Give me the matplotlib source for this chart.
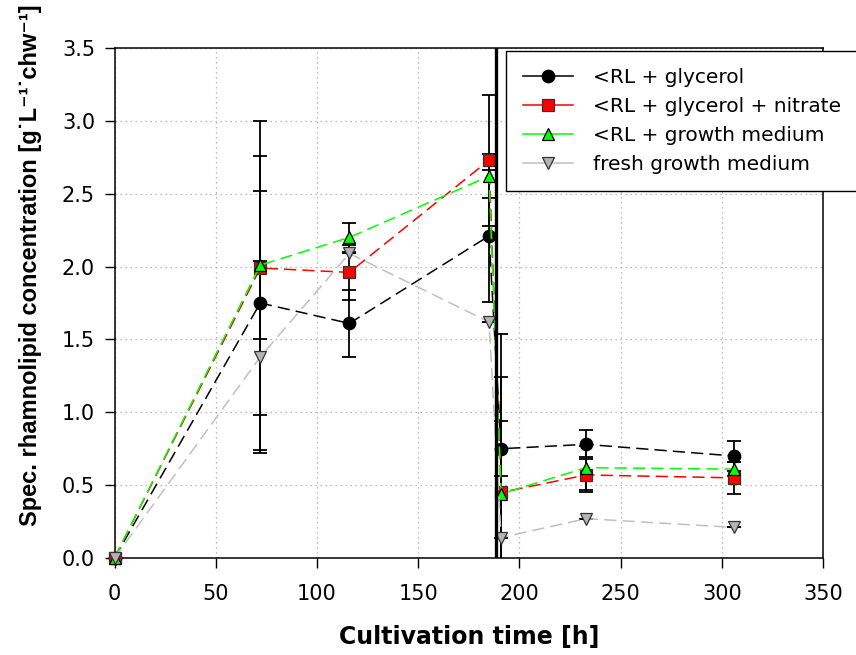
import matplotlib
matplotlib.use("Agg")
import matplotlib.pyplot as plt

plt.rcParams['font.family'] = ['DejaVu Sans']

# Sampling times [h]
time_h = [0, 72, 116, 185, 191, 233, 306]

# Specific rhamnolipid concentration per series, with standard deviations
rl_glycerol = [0.0, 1.75, 1.61, 2.21, 0.75, 0.78, 0.70]
rl_glycerol_err = [0.0, 1.01, 0.23, 0.45, 0.19, 0.10, 0.10]

rl_glycerol_nitrate = [0.0, 1.99, 1.96, 2.73, 0.45, 0.57, 0.55]
rl_glycerol_nitrate_err = [0.0, 1.01, 0.19, 0.45, 0.79, 0.12, 0.11]

rl_growth_medium = [0.0, 2.01, 2.20, 2.62, 0.44, 0.62, 0.61]
rl_growth_medium_err = [0.0, 0.51, 0.10, 0.15, 1.10, 0.15, 0.05]

fresh_growth_medium = [0.0, 1.38, 2.09, 1.62, 0.14, 0.27, 0.21]
fresh_growth_medium_err = [0.0, 0.66, 0.0, 0.0, 0.0, 0.0, 0.0]

series_labels = ["<RL + glycerol", "<RL + glycerol + nitrate",
                 "<RL + growth medium", "fresh growth medium"]

medium_change_h = 188.5

fig = plt.figure(figsize=(8.56, 6.55), dpi=100)
ax = fig.add_axes([114.5 / 856, 1 - 558 / 655, (823 - 114.5) / 856, (558 - 48) / 655])

styles = [
    dict(color="black", marker="o", mfc="black", mec="black"),
    dict(color="red", marker="s", mfc="red", mec="#333333"),
    dict(color="#00ff00", marker="^", mfc="#00ff00", mec="black"),
    dict(color="#c0c0c0", marker="v", mfc="#b4b4b4", mec="#333333"),
]
values = [rl_glycerol, rl_glycerol_nitrate, rl_growth_medium, fresh_growth_medium]
errors = [rl_glycerol_err, rl_glycerol_nitrate_err, rl_growth_medium_err, fresh_growth_medium_err]

# error bars first, in black
for vals, errs in zip(values, errors):
    ax.errorbar(time_h, vals, yerr=errs, fmt="none", ecolor="black",
                elinewidth=1.3, capsize=5, capthick=1.3, zorder=3)

handles = []
for vals, st, lab in zip(values, styles, series_labels):
    h, = ax.plot(time_h, vals, linestyle=(0, (8, 4)), linewidth=1.1,
                 color=st["color"], marker=st["marker"], markersize=9,
                 markerfacecolor=st["mfc"], markeredgecolor=st["mec"],
                 markeredgewidth=0.9, label=lab, zorder=4, clip_on=False)
    handles.append(h)

ax.axvline(medium_change_h, color="black", linewidth=2.4, zorder=5)

ax.set_xlim(0, 350)
ax.set_ylim(0, 3.5)
ax.set_xticks(range(0, 351, 50))
yticks = [0.0, 0.5, 1.0, 1.5, 2.0, 2.5, 3.0, 3.5]
ax.set_yticks(yticks)
ax.set_yticklabels([f"{v:.1f}" for v in yticks])
ax.tick_params(direction="out", length=7, width=1, labelsize=15)
ax.tick_params(axis="x", pad=12)
ax.tick_params(axis="y", pad=7)
ax.grid(True, color="#a8a8a8", linestyle=(0, (1, 3)), linewidth=0.9)
ax.set_axisbelow(True)
for sp in ax.spines.values():
    sp.set_linewidth(1.1)

ax.set_xlabel("Cultivation time [h]", fontsize=17, fontweight="bold", labelpad=15)
ax.set_ylabel("Spec. rhamnolipid concentration [g˙L⁻¹˙chw⁻¹]",
              family=["Liberation Sans", "DejaVu Sans"],
              fontsize=17, fontweight="bold")
ax.yaxis.set_label_coords(-0.102, 0.575)

leg = fig.legend(handles=handles, loc="upper left",
                 bbox_to_anchor=(506 / 856, 1 - 50.7 / 655),
                 bbox_transform=fig.transFigure, fontsize=14.5, frameon=True,
                 fancybox=False, edgecolor="black", framealpha=1,
                 handlelength=2.5, handletextpad=0.95, borderpad=0.85,
                 labelspacing=0.5, borderaxespad=0)
leg.get_frame().set_linewidth(1.0)
for lh in leg.legend_handles:
    lh.set_linestyle("-")

fig.savefig("out.png", dpi=100)
